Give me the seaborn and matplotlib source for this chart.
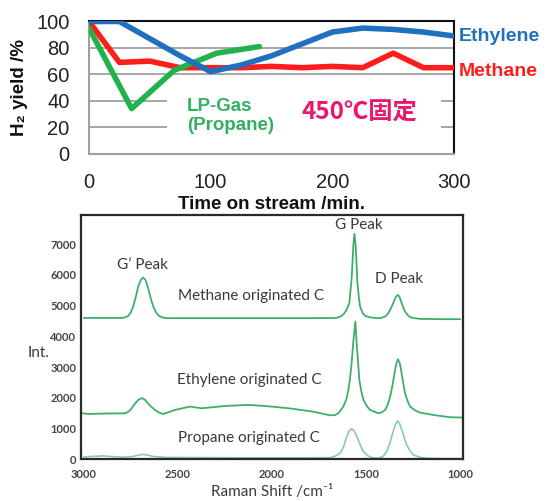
import matplotlib
matplotlib.use("Agg")
import matplotlib.pyplot as plt
import seaborn as sns
import pandas as pd
from matplotlib.patches import Rectangle

# ---------------- data: top panel (H2 yield vs time) ----------------
time_ethylene = [0, 25, 50, 75, 100, 125, 150, 175, 200, 225, 250, 275, 300]
yield_ethylene = [100, 100, 87, 74, 62, 67, 74, 83, 92, 95, 94, 92, 89]
time_methane = [0, 25, 50, 75, 100, 125, 150, 175, 200, 225, 250, 275, 300]
yield_methane = [100, 69, 70, 65, 65, 65, 66, 65, 66, 65, 76, 65, 65]
time_propane = [0, 35, 70, 105, 140]
yield_propane = [95, 34, 63, 76, 81]
top_yticks = [0, 20, 40, 60, 80, 100]
top_xticks = [0, 100, 200, 300]

# ---------------- data: bottom panel (Raman spectra) ----------------
wn_methane = [3000, 2850, 2800, 2780, 2764, 2750, 2738, 2724, 2711, 2698, 2685,
              2672, 2658, 2645, 2631, 2616, 2601, 2580, 2560,
              2200, 1800, 1660, 1638, 1620, 1605, 1589, 1576, 1567, 1562, 1555,
              1546, 1538, 1532, 1518, 1505, 1480, 1443, 1420, 1399, 1385, 1372,
              1360, 1349, 1340, 1331, 1322, 1314, 1304, 1293, 1280, 1266, 1240,
              1213, 1100, 1000]
int_methane = [4600, 4600, 4600, 4620, 4668, 4780, 4970, 5280, 5620, 5830, 5915,
               5830, 5570, 5250, 4970, 4780, 4668, 4610, 4593,
               4593, 4593, 4600, 4640, 4720, 4850, 5080, 5950, 7035, 7340, 6925,
               5730, 5250, 4970, 4760, 4668, 4620, 4593, 4600, 4645, 4730, 4863,
               5020, 5190, 5300, 5350, 5280, 5135, 4960, 4808, 4700, 4625, 4590,
               4570, 4560, 4560]

wn_ethylene = [3010, 2977, 2880, 2782, 2760, 2746, 2728, 2711, 2698, 2688, 2677,
               2667, 2645, 2622, 2600, 2581, 2550, 2516,
               2436, 2374, 2250, 2126, 2037, 1910, 1780, 1691, 1665, 1647, 1621,
               1605, 1594, 1585, 1577, 1567, 1557, 1549, 1540, 1536, 1525, 1514,
               1495, 1479, 1435, 1415, 1399, 1385, 1372, 1360, 1349, 1340, 1331,
               1322, 1314, 1304, 1293, 1280, 1266, 1240, 1213, 1142, 1053, 990]
int_ethylene = [1500, 1475, 1490, 1495, 1560, 1660, 1810, 1930, 1975, 1985, 1950,
                1875, 1730, 1605, 1520, 1475, 1530, 1605,
                1715, 1660, 1735, 1770, 1735, 1660, 1550, 1430, 1440, 1500, 1715,
                1950, 2257, 2650, 3127, 3886, 4482, 3668, 2950, 2583, 2200, 1931,
                1720, 1605, 1500, 1530, 1605, 1780, 2040, 2400, 2800, 3100, 3257,
                3150, 2910, 2520, 2150, 1900, 1715, 1590, 1520, 1443, 1368, 1360]

wn_propane = [3000, 2900, 2800, 2740, 2710, 2685, 2660, 2630, 2560, 2200, 1800,
              1691, 1665, 1638, 1620, 1603, 1590, 1577, 1563, 1549, 1530, 1514,
              1490, 1470, 1435, 1410, 1391, 1375, 1359, 1345, 1333, 1322, 1310,
              1297, 1284, 1265, 1248, 1210, 1177, 1053, 1000]
int_propane = [80, 110, 70, 90, 135, 160, 135, 90, 60, 50, 50,
               52, 100, 195, 400, 736, 920, 997, 920, 736, 450, 248,
               110, 60, 33, 90, 248, 500, 847, 1120, 1248, 1160, 954,
               700, 466, 260, 140, 60, 33, 20, 20]
bottom_yticks = [0, 1000, 2000, 3000, 4000, 5000, 6000, 7000]
bottom_xticks = [3000, 2500, 2000, 1500, 1000]

# ---------------- styling ----------------
sns.set_theme(style="white")
plt.rcParams["font.family"] = ["Liberation Sans", "DejaVu Sans"]

BLUE = "#1f70bf"
RED = "#ff1c1c"
GREEN = "#20b24c"
SPEC = "#3daf6b"
SPEC_LIGHT = "#85cfa0"
PINK = "#e8186c"
TXT = "#3a3a3a"

fig = plt.figure(figsize=(5.46, 5.01), dpi=100)

# ===== top panel =====
ax1 = fig.add_axes([89 / 546, 1 - 153.5 / 501, 365 / 546, 132 / 501])
ax1.set_xlim(0, 300)
ax1.set_ylim(0, 100)
for yv in top_yticks[1:-1]:
    ax1.axhline(yv, color="#a6a6a6", lw=1.4, zorder=1)
ax1.add_patch(Rectangle((64, 10), 225, 40, facecolor="white", edgecolor="none", zorder=1.5))

df_e = pd.DataFrame({"t": time_ethylene, "y": yield_ethylene})
df_m = pd.DataFrame({"t": time_methane, "y": yield_methane})
df_p = pd.DataFrame({"t": time_propane, "y": yield_propane})
lw = 4.0
sns.lineplot(data=df_m, x="t", y="y", ax=ax1, color=RED, lw=lw, sort=False,
             estimator=None, zorder=3, solid_joinstyle="round")
sns.lineplot(data=df_p, x="t", y="y", ax=ax1, color=GREEN, lw=lw, sort=False,
             estimator=None, zorder=4, solid_joinstyle="round")
sns.lineplot(data=df_e, x="t", y="y", ax=ax1, color=BLUE, lw=lw, sort=False,
             estimator=None, zorder=5, solid_joinstyle="round")

ax1.set_xticks(top_xticks)
ax1.set_yticks(top_yticks)
ax1.tick_params(axis="both", length=0, labelsize=14.5, colors="#222222", pad=14)
for side in ["left", "bottom"]:
    ax1.spines[side].set_color("#a0a0a0")
    ax1.spines[side].set_linewidth(1.5)
for side in ["top", "right"]:
    ax1.spines[side].set_color("#111111")
    ax1.spines[side].set_linewidth(1.5)
ax1.set_xlabel("Time on stream /min.", fontsize=13.5, fontweight="bold", color="#111111", labelpad=3)
ax1.set_ylabel("H₂ yield /%", fontsize=13.5, fontweight="bold", color="#111111", labelpad=6)

ax1.text(304, 89, "Ethylene", color=BLUE, fontsize=14, fontweight="bold", va="center", ha="left", clip_on=False)
ax1.text(304, 62, "Methane", color=RED, fontsize=14, fontweight="bold", va="center", ha="left", clip_on=False)
ax1.text(80.5, 28.5, "LP-Gas\n(Propane)", color="#30b060", fontsize=13.5, fontweight="bold",
         va="center", ha="left", linespacing=1.15, zorder=6)
ax1.text(174.5, 32, "450℃固定", color=PINK, fontsize=17.5, fontweight="bold",
         va="center", ha="left", family=["Noto Sans CJK JP", "DejaVu Sans"], zorder=6)

# ===== bottom panel =====
ax2 = fig.add_axes([81 / 546, 1 - 459.3 / 501, 382 / 546, 244.3 / 501])
ax2.set_xlim(3015, 985)
ax2.set_ylim(0, 7950)
sns.lineplot(x=wn_methane, y=int_methane, ax=ax2, color=SPEC, lw=1.3, sort=False, estimator=None)
sns.lineplot(x=wn_ethylene, y=int_ethylene, ax=ax2, color=SPEC, lw=1.3, sort=False, estimator=None)
sns.lineplot(x=wn_propane, y=int_propane, ax=ax2, color=SPEC_LIGHT, lw=1.2, sort=False, estimator=None)

ax2.set_xticks(bottom_xticks)
ax2.set_yticks(bottom_yticks)
ax2.tick_params(axis="x", length=0, pad=7)
ax2.tick_params(axis="y", length=0, pad=3.5)
for lab in ax2.get_xticklabels() + ax2.get_yticklabels():
    lab.set_family(["Lato", "DejaVu Sans"])
    lab.set_fontsize(8)
    lab.set_fontweight("bold")
    lab.set_color("#444444")
for side in ["left", "bottom", "top", "right"]:
    ax2.spines[side].set_color("#2a2a2a")
    ax2.spines[side].set_linewidth(1.6)

lat = ["Lato", "DejaVu Sans"]
ax2.set_ylabel("Int.", rotation=0, fontsize=11, color=TXT, family=lat, ha="center", va="center")
ax2.yaxis.set_label_coords(-0.11, 0.435)
ax2.set_xlabel("Raman Shift /cm⁻¹", fontsize=11, color=TXT, family=lat, va="center")
ax2.xaxis.set_label_coords(0.5, -0.133)

ann = dict(fontsize=11, color=TXT, family=lat, ha="center", va="center")
ax2.text(2686, 6330, "G’ Peak", **ann)
ax2.text(2109, 5330, "Methane originated C", **ann)
ax2.text(1539, 7630, "G Peak", **ann)
ax2.text(1323, 5860, "D Peak", **ann)
ax2.text(2123, 2585, "Ethylene originated C", **ann)
ax2.text(2123, 685, "Propane originated C", **ann)

fig.savefig("out.png", dpi=100)
